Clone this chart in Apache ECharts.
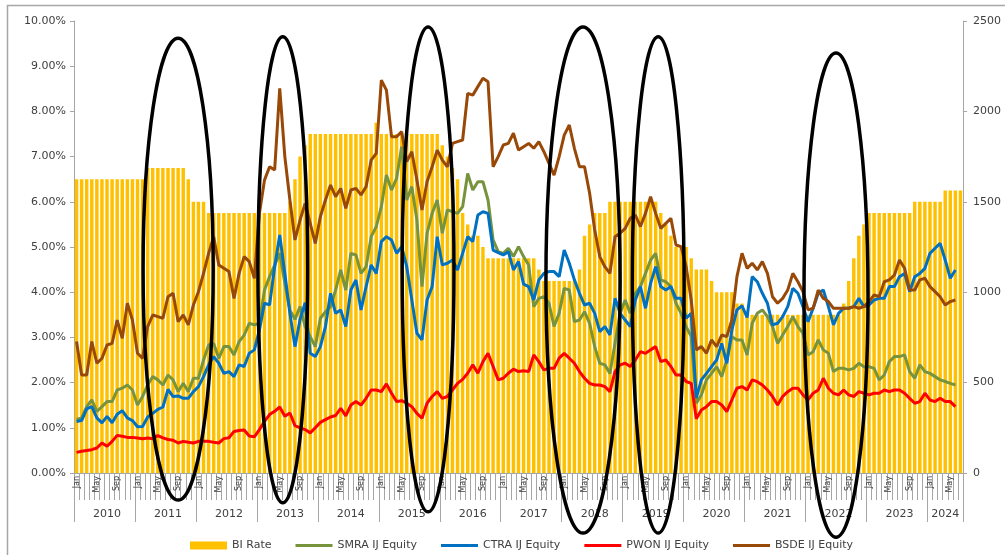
<!DOCTYPE html>
<html><head><meta charset="utf-8">
<script src="https://cdn.jsdelivr.net/npm/echarts@6/dist/echarts.min.js"></script>
<style>html,body{margin:0;padding:0;background:#fff}#c{width:1005px;height:555px}</style>
</head><body><div id="c"></div>
<script>
const monthNames = ['Jan','Feb','Mar','Apr','May','Jun','Jul','Aug','Sep','Oct','Nov','Dec'];
const years = ['2010','2011','2012','2013','2014','2015','2016','2017','2018','2019','2020','2021','2022','2023','2024'];

const biRate = [
6.5,6.5,6.5,6.5,6.5,6.5,6.5,6.5,6.5,6.5,6.5,6.5,
6.5,6.5,6.75,6.75,6.75,6.75,6.75,6.75,6.75,6.75,6.5,6.0,
6.0,6.0,5.75,5.75,5.75,5.75,5.75,5.75,5.75,5.75,5.75,5.75,
5.75,5.75,5.75,5.75,5.75,5.75,6.0,6.5,7.0,7.25,7.5,7.5,
7.5,7.5,7.5,7.5,7.5,7.5,7.5,7.5,7.5,7.5,7.5,7.75,
7.5,7.5,7.5,7.5,7.5,7.5,7.5,7.5,7.5,7.5,7.5,7.5,
7.25,7.0,6.75,6.5,5.75,5.5,5.25,5.25,5.0,4.75,4.75,4.75,
4.75,4.75,4.75,4.75,4.75,4.75,4.75,4.5,4.25,4.25,4.25,4.25,
4.25,4.25,4.25,4.5,5.25,5.5,5.75,5.75,5.75,6.0,6.0,6.0,
6.0,6.0,6.0,6.0,6.0,6.0,6.0,5.75,5.5,5.25,5.0,5.0,
5.0,4.75,4.5,4.5,4.5,4.25,4.0,4.0,4.0,4.0,3.75,3.75,
3.5,3.5,3.5,3.5,3.5,3.5,3.5,3.5,3.5,3.5,3.5,3.5,
3.5,3.5,3.5,3.5,3.5,3.5,3.5,3.75,4.25,4.75,5.25,5.5,
5.75,5.75,5.75,5.75,5.75,5.75,5.75,5.75,5.75,6.0,6.0,6.0,
6.0,6.0,6.0,6.25,6.25,6.25,6.25
];

const smra = [
297,303,367,404,340,367,395,395,459,469,487,459,
376,423,487,533,515,487,542,515,450,496,450,524,
524,625,708,717,634,699,699,653,727,763,828,819,
828,1013,1086,1150,1215,1050,900,850,920,810,754,699,
856,892,920,1012,1123,1012,1215,1206,1104,1141,1307,1363,
1473,1648,1565,1630,1805,1510,1584,1399,1031,1326,1436,1510,
1326,1455,1445,1436,1473,1657,1565,1611,1611,1510,1289,1224,
1215,1243,1197,1252,1197,1150,920,966,975,939,810,883,
1021,1012,837,846,892,828,699,607,598,551,717,883,
957,883,994,1031,1104,1178,1215,1068,1058,1031,939,883,
810,754,386,432,515,551,588,533,625,754,736,736,
653,828,883,902,865,810,717,763,810,865,810,773,
653,671,736,681,662,561,579,579,570,579,607,588,
588,579,515,542,616,644,644,653,561,524,598,561,
551,533,515,506,496,487
];

const ctra = [
285,290,355,367,305,277,313,278,325,345,305,290,
256,257,310,330,352,365,462,423,426,413,413,450,
478,533,598,644,607,551,561,533,598,589,662,681,
791,939,930,1141,1316,1104,883,699,849,942,662,644,
699,810,994,883,902,810,1012,1068,902,1031,1151,1104,
1280,1307,1289,1215,1252,1141,957,773,736,957,1031,1307,
1151,1160,1178,1123,1215,1307,1280,1427,1445,1436,1233,1219,
1206,1224,1123,1169,1045,1031,957,1068,1104,1114,1114,1086,
1233,1160,1068,994,929,939,883,782,810,764,966,883,
846,810,957,1031,911,1049,1141,1031,1012,1031,966,966,
856,883,415,515,551,588,625,717,607,791,902,925,
860,1086,1058,994,939,819,828,865,920,1021,994,920,
837,911,994,1012,920,819,883,911,911,920,966,920,
929,957,966,966,1031,1031,1086,1104,1003,1086,1104,1132,
1215,1243,1270,1178,1077,1123
];

const pwon = [
114,120,125,129,138,166,148,175,208,203,197,197,
194,190,194,190,207,194,185,181,166,175,170,166,
175,175,175,170,166,190,195,230,235,238,205,200,
240,286,323,341,365,314,332,262,250,240,222,250,
280,295,310,318,358,316,376,395,376,413,459,459,
450,493,441,395,400,386,367,330,303,386,423,450,
413,423,459,496,518,552,598,552,616,662,589,515,
524,552,574,561,565,561,653,616,570,579,579,635,
662,635,607,561,524,496,487,487,478,450,561,598,
607,589,625,671,662,681,699,616,625,589,542,542,
506,496,300,349,367,395,395,376,340,404,469,478,
459,515,505,487,459,423,376,423,450,469,469,432,
404,441,459,524,469,441,432,459,432,423,450,441,
432,441,441,459,450,459,459,441,413,386,395,441,
404,395,413,395,395,367
];

const bsde = [
727,542,542,727,607,634,708,717,846,745,939,846,
662,634,810,874,865,856,975,994,837,874,819,929,
1003,1104,1215,1307,1151,1132,1114,966,1104,1197,1169,1077,
1436,1620,1694,1676,2127,1750,1510,1289,1399,1491,1381,1270,
1418,1510,1593,1528,1574,1464,1565,1574,1538,1584,1731,1768,
2173,2118,1860,1860,1888,1722,1777,1620,1455,1611,1694,1786,
1731,1694,1823,1833,1842,2100,2090,2137,2183,2164,1694,1750,
1814,1823,1879,1786,1805,1823,1796,1833,1777,1713,1648,1750,
1869,1925,1796,1694,1694,1547,1344,1197,1141,1104,1307,1326,
1353,1409,1427,1363,1436,1528,1436,1353,1381,1409,1261,1252,
1141,957,681,699,662,736,699,763,754,846,1086,1215,
1132,1160,1123,1169,1104,975,939,966,1012,1104,1058,1003,
902,911,1012,966,948,911,911,911,911,920,911,920,
948,985,975,1058,1068,1095,1178,1132,1012,1012,1068,1077,
1031,1003,975,929,948,957
];

// annotation ellipses: centre (month index), half width (months), top and bottom (% on left axis)
const ellipseCenter = [20, 40.6, 69.2, 99.7, 114.5, 149.5];
const ellipseHalfWidth = [6.9, 4.9, 5.1, 7.3, 5.1, 6.3];
const ellipseTop = [9.62, 9.65, 9.87, 9.87, 9.65, 9.29];
const ellipseBottom = [-0.60, -0.66, -0.86, -1.33, -1.33, -1.42];

const seriesNames = ['BI Rate','SMRA IJ Equity','CTRA IJ Equity','PWON IJ Equity','BSDE IJ Equity'];
const seriesColors = ['#FFC000','#77933C','#0070C0','#FF0000','#984807'];

const N = biRate.length;
const categories = [];
for (let i = 0; i < N; i++) categories.push(monthNames[i % 12] + ' ' + years[Math.floor(i / 12)]);
const yearMid = years.map((y, k) => { const s = k * 12; const len = Math.min(12, N - s); return s + Math.floor(len / 2); });

const chart = echarts.init(document.getElementById('c'), null, {renderer: 'canvas'});
const gridBox = {left: 74, right: 42, top: 21, bottom: 82};
const axisGray = '#a6a6a6';
const textGray = '#404040';
const lineIcon = 'path://M0,0 L37,0 L37,3 L0,3 Z';

const lineSeries = [smra, ctra, pwon, bsde].map((d, k) => ({
  name: seriesNames[k + 1], type: 'line', xAxisIndex: 0, yAxisIndex: 1, data: d,
  symbol: 'none', showSymbol: false, smooth: false, z: 3,
  lineStyle: {width: 3, color: seriesColors[k + 1]}, itemStyle: {color: seriesColors[k + 1]}
}));

chart.setOption({
  animation: false,
  textStyle: {fontFamily: 'DejaVu Sans'},
  grid: [Object.assign({}, gridBox), Object.assign({}, gridBox)],
  legend: {
    left: 185, top: 535, itemWidth: 37, itemHeight: 8, itemGap: 24,
    textStyle: {fontSize: 11, color: textGray, fontFamily: 'DejaVu Sans'},
    data: [
      {name: seriesNames[0], icon: 'rect'},
      {name: seriesNames[1], icon: lineIcon},
      {name: seriesNames[2], icon: lineIcon},
      {name: seriesNames[3], icon: lineIcon},
      {name: seriesNames[4], icon: lineIcon}
    ]
  },
  xAxis: [
    {
      type: 'category', gridIndex: 0, data: categories, boundaryGap: true,
      axisLine: {show: true, lineStyle: {color: axisGray, width: 1}},
      axisTick: {show: true, interval: 0, length: 27, lineStyle: {color: axisGray}},
      axisLabel: {
        interval: (i) => i % 4 === 0, rotate: 90, fontSize: 8, color: textGray, margin: 3,
        formatter: (v) => v.split(' ')[0]
      },
      splitLine: {show: false}
    },
    {
      type: 'category', gridIndex: 1, data: categories, boundaryGap: true, position: 'bottom',
      axisLine: {show: false},
      axisTick: {show: true, interval: (i) => i % 12 === 0, length: 49, lineStyle: {color: axisGray}},
      axisLabel: {
        interval: (i) => yearMid.indexOf(i) >= 0, fontSize: 11, color: textGray, margin: 36,
        formatter: (v) => v.split(' ')[1]
      },
      splitLine: {show: false}
    }
  ],
  yAxis: [
    {
      type: 'value', gridIndex: 0, position: 'left', min: 0, max: 10, interval: 1,
      axisLine: {show: true, lineStyle: {color: axisGray}},
      axisTick: {show: true, length: 4, lineStyle: {color: axisGray}},
      splitLine: {show: false},
      axisLabel: {formatter: (v) => v.toFixed(2) + '%', fontSize: 11, color: textGray, margin: 8}
    },
    {
      type: 'value', gridIndex: 0, position: 'right', min: 0, max: 2500, interval: 500,
      axisLine: {show: true, lineStyle: {color: axisGray}},
      axisTick: {show: true, length: 4, lineStyle: {color: axisGray}},
      splitLine: {show: false},
      axisLabel: {formatter: (v) => String(v), fontSize: 11, color: textGray, margin: 10}
    },
    {type: 'value', gridIndex: 1, show: false}
  ],
  series: [
    {
      name: seriesNames[0], type: 'bar', xAxisIndex: 0, yAxisIndex: 0, data: biRate,
      barCategoryGap: '32%', itemStyle: {color: seriesColors[0]}, z: 2
    }
  ].concat(lineSeries)
});

// ellipse overlays placed through the axes' own scales
const x0 = chart.convertToPixel({xAxisIndex: 0}, categories[0]);
const x1 = chart.convertToPixel({xAxisIndex: 0}, categories[N - 1]);
const pxPerMonth = (x1 - x0) / (N - 1);
const y0 = chart.convertToPixel({yAxisIndex: 0}, 0);
const y10 = chart.convertToPixel({yAxisIndex: 0}, 10);
const pxPerPct = (y10 - y0) / 10;

const graphics = [{
  type: 'rect', silent: true, z: 0,
  shape: {x: 7.5, y: 5.5, width: 1100, height: 600},
  style: {fill: null, stroke: '#a6a6a6', lineWidth: 1.5}
}];
ellipseCenter.forEach((c, k) => {
  const yt = y0 + ellipseTop[k] * pxPerPct;
  const yb = y0 + ellipseBottom[k] * pxPerPct;
  graphics.push({
    type: 'ellipse', silent: true, z: 100,
    shape: {cx: x0 + c * pxPerMonth, cy: (yt + yb) / 2, rx: ellipseHalfWidth[k] * pxPerMonth, ry: Math.abs(yb - yt) / 2},
    style: {fill: null, stroke: '#000', lineWidth: 3.5}
  });
});
chart.setOption({graphic: graphics});
</script>
</body></html>
